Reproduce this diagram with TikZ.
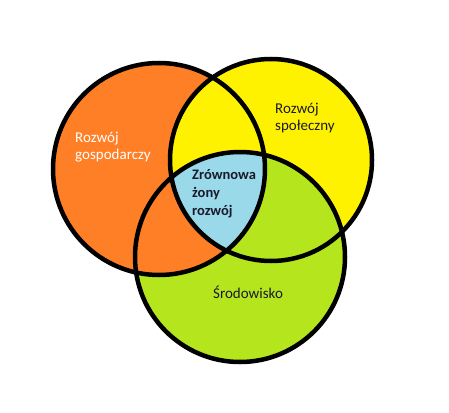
\documentclass[tikz,border=0pt]{standalone}
\usepackage{fontspec}
\setmainfont{Carlito}
\definecolor{corange}{HTML}{FF7F27}
\definecolor{cyellow}{HTML}{FFF200}
\definecolor{cgreen}{HTML}{B5E61D}
\definecolor{cblue}{HTML}{99D9EA}
\definecolor{ctext}{HTML}{1A1A2A}
\tikzset{
  ring/.style={draw=black, line width=4.5pt},
  lbl/.style={anchor=base west, inner sep=0pt, font=\fontsize{15}{18}\selectfont},
  midlbl/.style={lbl, font=\fontsize{14.5}{18}\selectfont\bfseries, text=ctext}
}
\begin{document}
\begin{tikzpicture}[x=1pt,y=-1pt]
\useasboundingbox (0,0) rectangle (449,412);
\fill[white] (0,0) rectangle (449,412);
\coordinate (O) at (159,169);
\coordinate (Y) at (271,160);
\coordinate (G) at (240,257);
% fills
\fill[cgreen] (G) circle[radius=105pt];
\fill[corange] (O) circle[radius=106pt];
\fill[cyellow] (Y) circle[radius=101pt];
\begin{scope}
  \clip (Y) circle[radius=101pt];
  \fill[cgreen] (G) circle[radius=105pt];
\end{scope}
\begin{scope}
  \clip (Y) circle[radius=101pt];
  \clip (O) circle[radius=106pt];
  \fill[cblue] (G) circle[radius=105pt];
\end{scope}
% outlines
\draw[ring] (O) circle[radius=106pt];
\draw[ring] (Y) circle[radius=101pt];
\draw[ring] (G) circle[radius=105pt];
% labels
\node[lbl, text=white] (e1) at (75,142) {Rozwój};
\node[lbl, text=white] (e2) at (75,159) {gospodarczy};
\node[lbl, text=ctext] (s1) at (275,113) {Rozwój};
\node[lbl, text=ctext] (s2) at (275,130) {społeczny};
\node[midlbl] (m1) at (192,179) {Zrównowa};
\node[midlbl] (m2) at (192,197) {żony};
\node[midlbl] (m3) at (192,215) {rozwój};
\node[lbl, text=ctext] (g1) at (213,298) {Środowisko};
\end{tikzpicture}
\end{document}
